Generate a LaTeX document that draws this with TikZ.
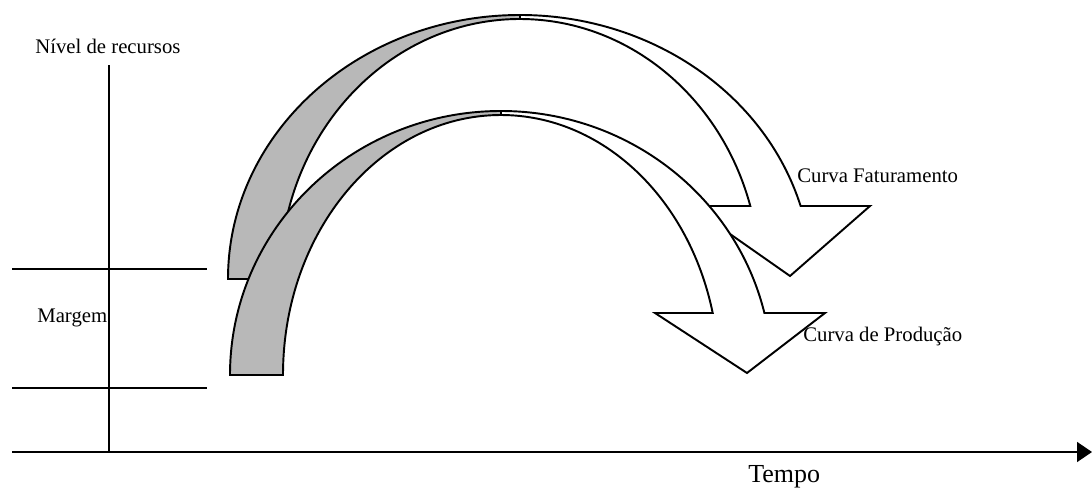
\documentclass[tikz,border=0pt]{standalone}
\usepackage{fontspec}
\setmainfont{Liberation Serif}
\usetikzlibrary{arrows.meta,positioning}

\begin{document}
\begin{tikzpicture}[x=0.02cm,y=0.02cm,font=\fontsize{11.8}{14}\selectfont,
  back/.style={draw,line width=1.1pt,fill=black!28},
  front/.style={draw,line width=1.1pt,fill=white},
  axis/.style={line width=0.9pt},
  lbl/.style={inner sep=0pt,anchor=base west}]
  \useasboundingbox (0,0) rectangle (1092,487);
  \foreach \y in {99,218}{
    \draw[axis] (12,\y) -- (207,\y);
  }
  \coordinate (o) at (109,35);
  \coordinate (ytop) at (109,422);
  \coordinate (xleft) at (12,35);
  \coordinate (xend) at (1092,35);
  \draw[axis] (o) -- (ytop);
  \draw[axis,-{Triangle[length=0.3cm,width=0.4cm]}] (xleft) -- (xend);
  % upper arrow
  \draw[back] (228,208) arc[start angle=180,end angle=90,x radius=292,y radius=264]
    -- (520,468) arc[start angle=90,end angle=180,x radius=240,y radius=260] -- cycle;
  \draw[front] (520,472) arc[start angle=90,end angle=16.05,x radius=292,y radius=264]
    -- (870,281) -- (790,211) -- (690,281) -- (750.3,281)
    arc[start angle=16.31,end angle=90,x radius=240,y radius=260] -- cycle;
  % lower arrow
  \draw[back] (230,112) arc[start angle=180,end angle=90,x radius=271,y radius=264]
    -- (501,372) arc[start angle=90,end angle=180,x radius=218,y radius=260] -- cycle;
  \draw[front] (501,376) arc[start angle=90,end angle=13.58,x radius=271,y radius=264]
    -- (825,174) -- (747,114) -- (655,174) -- (712.7,174)
    arc[start angle=13.80,end angle=90,x radius=218,y radius=260] -- cycle;
  \node[lbl] (nivel) at (35,433) {Nível de recursos};
  \node[lbl] (margem) at (37,164) {Margem};
  \node[lbl,font=\fontsize{14.8}{17}\selectfont] (tempo) at (748,5) {Tempo};
  \node[lbl] (fat) at (797,304) {Curva Faturamento};
  \node[lbl] (prod) at (803,145) {Curva de Produção};
\end{tikzpicture}
\end{document}
